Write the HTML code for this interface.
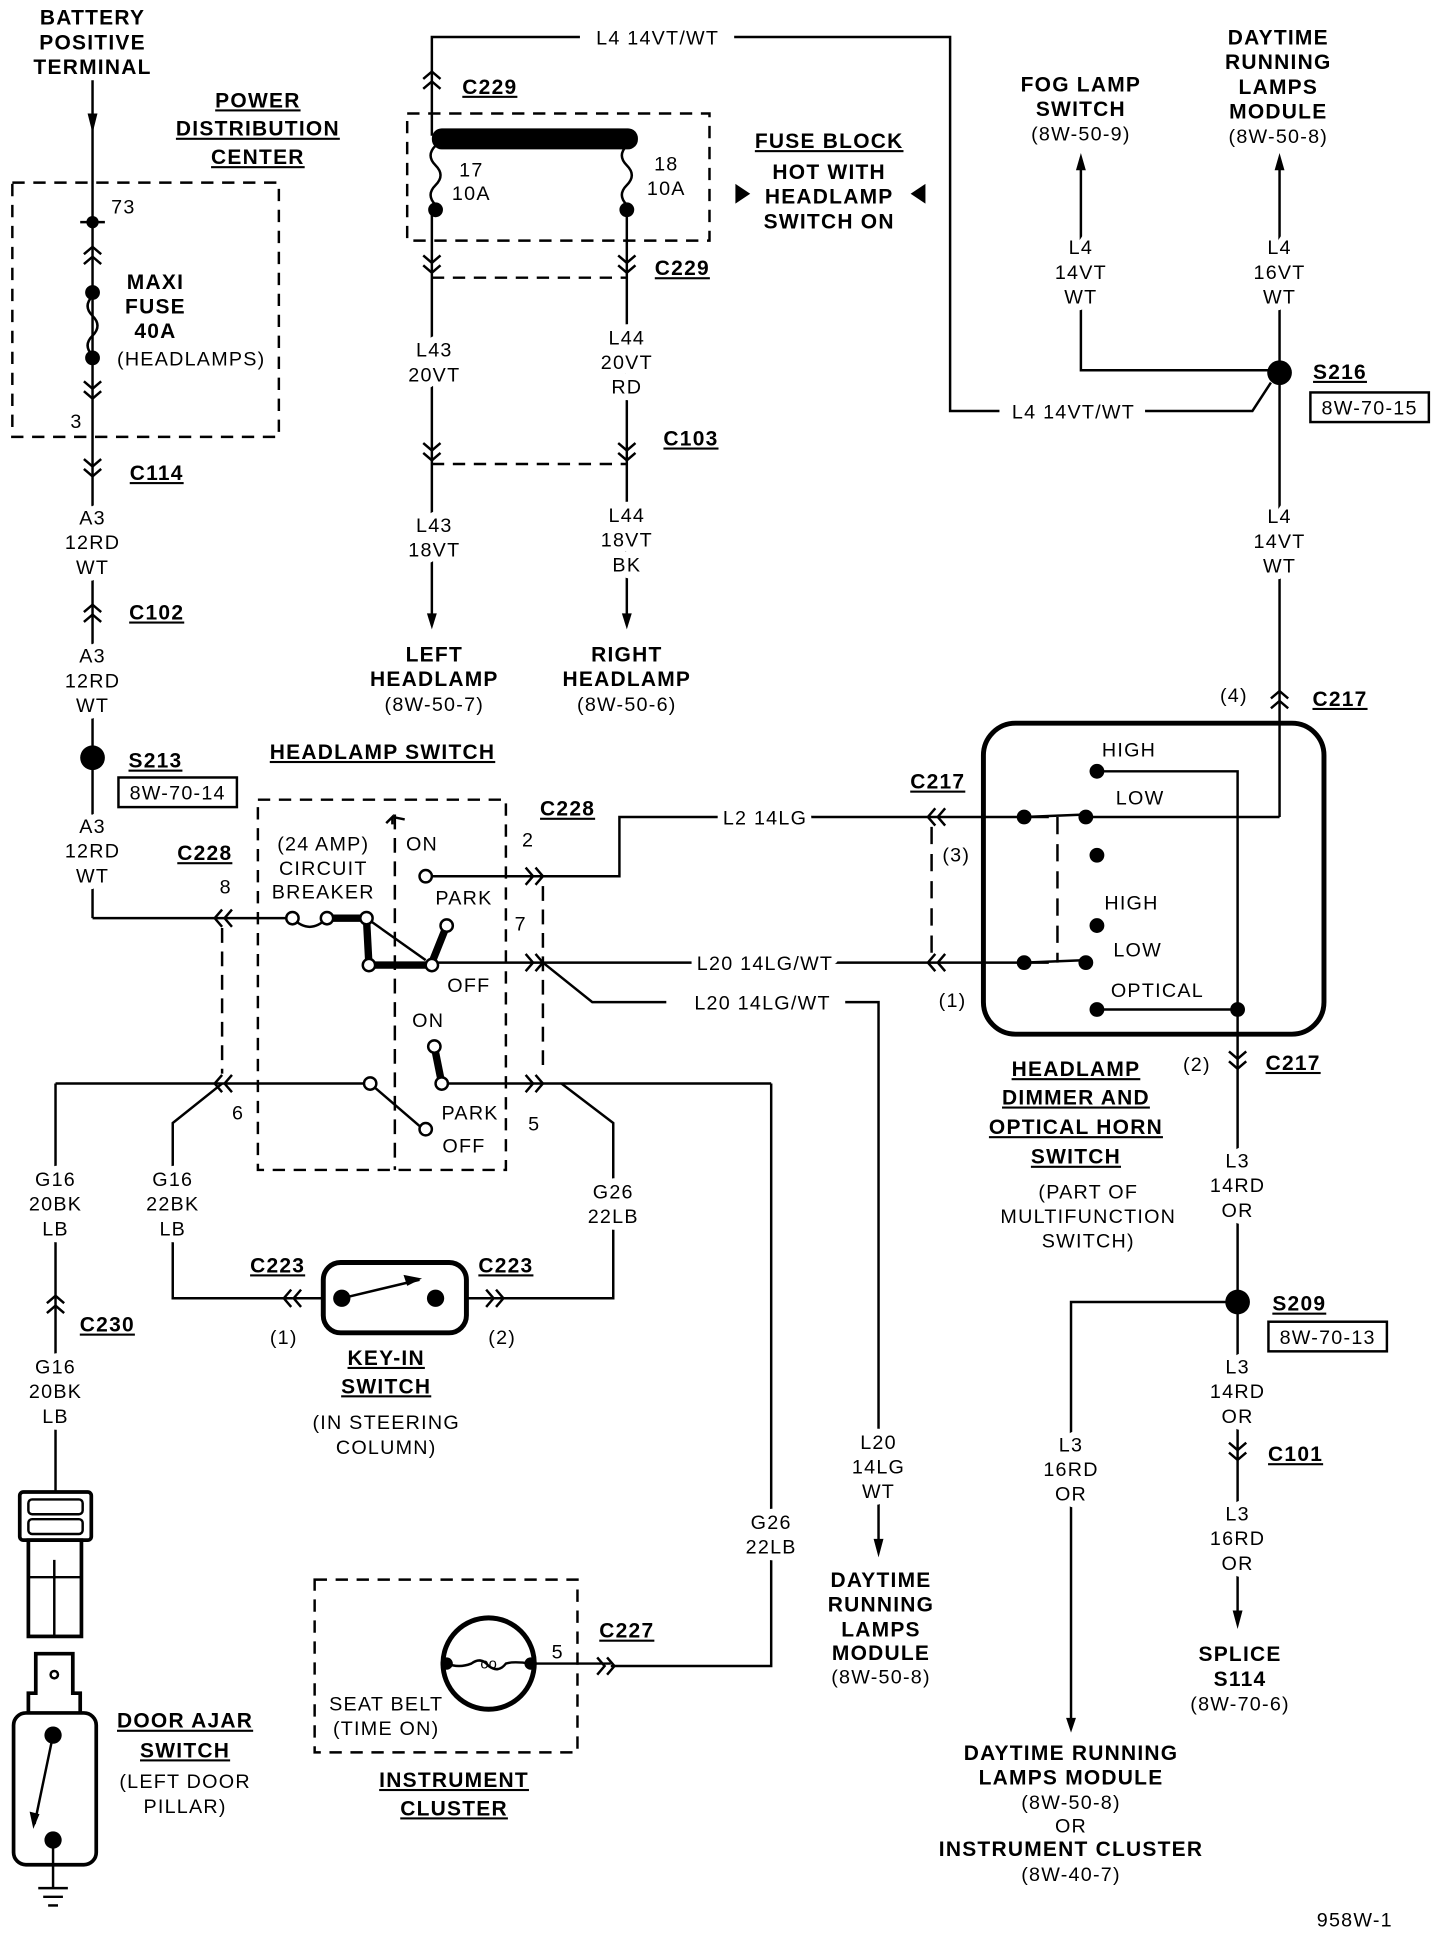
<!DOCTYPE html>
<html><head><meta charset="utf-8"><style>
html,body{margin:0;padding:0;background:#fff;}
svg{display:block;}
text{font-family:"Liberation Sans Narrow","Liberation Sans",sans-serif;fill:#000;text-anchor:middle;}
.h{font-weight:bold;font-size:17px;letter-spacing:1px;}
.u{text-decoration:underline;}
.w{font-size:16px;letter-spacing:1px;}
.w text{paint-order:stroke;stroke:#fff;stroke-width:11px;stroke-linejoin:round;}
.w text.b{stroke:none;}
</style></head><body>
<svg width="1456" height="1940" viewBox="0 0 1180 1572" preserveAspectRatio="none" xmlns="http://www.w3.org/2000/svg">
<defs>
<g id="cd"><polyline points="-7,-6 0,0 7,-6" fill="none" stroke="#000" stroke-width="2"/><polyline points="-7,2 0,8 7,2" fill="none" stroke="#000" stroke-width="2"/></g>
<g id="cu"><polyline points="-7,6 0,0 7,6" fill="none" stroke="#000" stroke-width="2"/><polyline points="-7,14 0,8 7,14" fill="none" stroke="#000" stroke-width="2"/></g>
<g id="cl"><polyline points="6,-7 0,0 6,7" fill="none" stroke="#000" stroke-width="2"/><polyline points="14,-7 8,0 14,7" fill="none" stroke="#000" stroke-width="2"/></g>
<g id="cr"><polyline points="-6,-7 0,0 -6,7" fill="none" stroke="#000" stroke-width="2"/><polyline points="-14,-7 -8,0 -14,7" fill="none" stroke="#000" stroke-width="2"/></g>
</defs>
<g fill="none" stroke="#000" stroke-width="2">
<line x1="75" y1="65" x2="75" y2="744"/><line x1="75" y1="744" x2="237" y2="744"/>
<rect x="10" y="148" width="216" height="206" stroke-dasharray="10,7"/>
<line x1="65" y1="180" x2="85" y2="180"/>
<path d="M75 240 q-8 8 0 16 q8 8 0 16 q-8 8 0 16"/>
<polyline points="350,110 350,30 470,30"/><polyline points="595,30 770,30 770,333 810,333"/>
<polyline points="928,333 1015,333 1030,310"/>
<rect x="330" y="92" width="245" height="103" stroke-dasharray="10,7"/>
<path d="M353 118 q-8 8 0 16 q8 8 0 16 q-8 8 0 16"/><path d="M508 118 q-8 8 0 16 q8 8 0 16 q-8 8 0 16"/>
<line x1="350" y1="170" x2="350" y2="500"/><line x1="508" y1="170" x2="508" y2="500"/>
<line x1="350" y1="225" x2="508" y2="225" stroke-dasharray="10,7"/>
<line x1="350" y1="376" x2="508" y2="376" stroke-dasharray="10,7"/>
<polyline points="876,135 876,300 1037,300"/><line x1="1037" y1="135" x2="1037" y2="662"/>
<polyline points="1037,662 880,662"/>
<rect x="797" y="586" width="276" height="252" rx="26" stroke-width="4"/>
<polyline points="889,625 1003,625 1003,1308"/>
<line x1="889" y1="818" x2="1003" y2="818"/>
<line x1="760" y1="662" x2="850" y2="662"/><line x1="760" y1="780" x2="850" y2="780"/>
<line x1="830" y1="662" x2="880" y2="660"/><line x1="830" y1="780" x2="880" y2="778"/>
<line x1="857" y1="662" x2="857" y2="780" stroke-dasharray="14,8"/>
<line x1="755" y1="670" x2="755" y2="775" stroke-dasharray="14,8"/>
<polyline points="1003,1055 868,1055 868,1395"/>
<rect x="209" y="648" width="201" height="300" stroke-dasharray="10,7"/>
<line x1="320" y1="660" x2="320" y2="948" stroke-dasharray="12,7"/>
<path d="M237 744 q14 14 28 0"/>
<polyline points="345,710 502,710 502,662 760,662"/>
<line x1="350" y1="780" x2="760" y2="780"/>
<polyline points="440,780 480,812 540,812"/><polyline points="685,812 712,812 712,1250"/>
<line x1="180" y1="752" x2="180" y2="870" stroke-dasharray="12,7"/>
<line x1="440" y1="718" x2="440" y2="870" stroke-dasharray="12,7"/>
<line x1="45" y1="878" x2="300" y2="878"/><line x1="300" y1="878" x2="343" y2="915"/>
<line x1="358" y1="878" x2="625" y2="878"/><polyline points="625,878 625,1350 495,1350"/>
<polyline points="180,878 140,910 140,1052 237,1052"/>
<polyline points="455,878 497,910 497,1052 398,1052"/>
<line x1="45" y1="878" x2="45" y2="1209"/>
<rect x="262" y="1023" width="116" height="57" rx="14" stroke-width="4"/>
<line x1="277" y1="1052" x2="340" y2="1037"/>
<line x1="237" y1="1052" x2="262" y2="1052"/><line x1="378" y1="1052" x2="398" y2="1052"/>
<rect x="255" y="1280" width="213" height="140" stroke-dasharray="10,7"/>
<circle cx="396" cy="1348" r="37" stroke-width="4"/>
<line x1="430" y1="1348" x2="495" y2="1348"/>
<path d="M362 1348 q10 4 20 0 q8 -6 14 2 q8 6 14 -2 q6 -2 20 0"/>
<rect x="16" y="1209" width="58" height="39" rx="3" stroke-width="3"/>
<rect x="23" y="1215" width="44" height="12" rx="3"/><rect x="23" y="1231" width="44" height="12" rx="3"/>
<rect x="23" y="1248" width="43" height="78" stroke-width="3"/>
<line x1="44" y1="1264" x2="44" y2="1326"/><line x1="23" y1="1278" x2="66" y2="1278"/>
<path d="M23 1388 L23 1372 L29 1372 L29 1340 L59 1340 L59 1372 L65 1372 L65 1388" stroke-width="3"/>
<circle cx="44" cy="1357" r="3"/>
<rect x="11" y="1388" width="67" height="123" rx="10" stroke-width="3"/>
<line x1="43" y1="1406" x2="28" y2="1478"/>
<line x1="43" y1="1491" x2="43" y2="1530"/>
<line x1="31" y1="1530" x2="55" y2="1530"/><line x1="35" y1="1537" x2="51" y2="1537"/><line x1="39" y1="1544" x2="47" y2="1544"/>
</g>
<g fill="#000">
<circle cx="43" cy="1406" r="7"/><circle cx="43" cy="1491" r="7"/>
<polygon points="24,1468 32,1470 27,1482"/>
<polygon points="71,92 79,92 75,108"/>
<polygon points="346,497 354,497 350,510"/><polygon points="504,497 512,497 508,510"/>
<polygon points="872,138 880,138 876,124"/><polygon points="1033,138 1041,138 1037,124"/>
<polygon points="708,1247 716,1247 712,1262"/><polygon points="864,1392 872,1392 868,1404"/>
<polygon points="999,1305 1007,1305 1003,1320"/>
<polygon points="596,149 608,157 596,165"/><polygon points="750,149 738,157 750,165"/>
<polygon points="327,1033 342,1036 330,1042"/>
<circle cx="75" cy="180" r="5"/><circle cx="75" cy="237" r="6"/><circle cx="75" cy="290" r="6"/>
<circle cx="353" cy="170" r="6"/><circle cx="508" cy="170" r="6"/>
<rect x="350" y="104" width="167" height="17" rx="8"/>
<circle cx="75" cy="614" r="10"/><circle cx="1037" cy="302" r="10"/><circle cx="1003" cy="1055" r="10"/>
<circle cx="889" cy="625" r="6"/><circle cx="830" cy="662" r="6"/><circle cx="880" cy="662" r="6"/>
<circle cx="889" cy="693" r="6"/><circle cx="889" cy="750" r="6"/><circle cx="830" cy="780" r="6"/>
<circle cx="880" cy="780" r="6"/><circle cx="889" cy="818" r="6"/><circle cx="1003" cy="818" r="6"/>
<circle cx="277" cy="1052" r="7"/><circle cx="353" cy="1052" r="7"/>
<circle cx="362" cy="1348" r="5"/><circle cx="430" cy="1348" r="5"/>
</g>
<g stroke="#000" fill="none">
<polyline points="265,744 297,744 299,782 350,782" stroke-width="6"/>
<line x1="297" y1="744" x2="345" y2="778" stroke-width="2"/>
<line x1="350" y1="780" x2="362" y2="750" stroke-width="6"/>
<line x1="352" y1="848" x2="358" y2="878" stroke-width="6"/>
<path d="M313 667 l5 -5 l0 6 M318 662 l10 2" stroke-width="2"/>
</g>
<g fill="#fff" stroke="#000" stroke-width="2">
<circle cx="237" cy="744" r="5"/><circle cx="265" cy="744" r="5"/><circle cx="297" cy="744" r="5"/>
<circle cx="299" cy="782" r="5"/><circle cx="350" cy="782" r="5"/><circle cx="362" cy="750" r="5"/>
<circle cx="345" cy="710" r="5"/>
<circle cx="300" cy="878" r="5"/><circle cx="345" cy="915" r="5"/><circle cx="352" cy="848" r="5"/><circle cx="358" cy="878" r="5"/>
</g>
<use href="#cu" x="75" y="200"/><use href="#cd" x="75" y="315"/><use href="#cd" x="75" y="378"/><use href="#cu" x="75" y="490"/>
<use href="#cu" x="350" y="58"/><use href="#cd" x="350" y="213"/><use href="#cd" x="508" y="213"/>
<use href="#cd" x="350" y="365"/><use href="#cd" x="508" y="365"/>
<use href="#cu" x="1037" y="560"/><use href="#cd" x="1003" y="858"/><use href="#cd" x="1003" y="1175"/>
<use href="#cu" x="45" y="1050"/>
<use href="#cl" x="174" y="744"/><use href="#cl" x="174" y="878"/>
<use href="#cr" x="440" y="710"/><use href="#cr" x="440" y="780"/><use href="#cr" x="440" y="878"/>
<use href="#cl" x="752" y="662"/><use href="#cl" x="752" y="780"/>
<use href="#cl" x="230" y="1052"/><use href="#cr" x="408" y="1052"/><use href="#cr" x="498" y="1350"/>
<g class="h">
<text x="75" y="20">BATTERY</text><text x="75" y="40">POSITIVE</text><text x="75" y="60">TERMINAL</text>
<text x="209" y="87" class="u">POWER</text><text x="209" y="110" class="u">DISTRIBUTION</text><text x="209" y="133" class="u">CENTER</text>
<text x="126" y="234">MAXI</text><text x="126" y="254">FUSE</text><text x="126" y="274">40A</text>
<text x="127" y="389" class="u">C114</text><text x="127" y="502" class="u">C102</text><text x="126" y="622" class="u">S213</text>
<text x="397" y="76" class="u">C229</text><text x="553" y="223" class="u">C229</text><text x="560" y="361" class="u">C103</text>
<text x="672" y="120" class="u">FUSE BLOCK</text><text x="672" y="145">HOT WITH</text><text x="672" y="165">HEADLAMP</text><text x="672" y="185">SWITCH ON</text>
<text x="876" y="74">FOG LAMP</text><text x="876" y="94">SWITCH</text>
<text x="1036" y="36">DAYTIME</text><text x="1036" y="56">RUNNING</text><text x="1036" y="76">LAMPS</text><text x="1036" y="96">MODULE</text>
<text x="1086" y="307" class="u">S216</text>
<text x="352" y="536">LEFT</text><text x="352" y="556">HEADLAMP</text><text x="508" y="536">RIGHT</text><text x="508" y="556">HEADLAMP</text>
<text x="310" y="615" class="u">HEADLAMP SWITCH</text><text x="166" y="697" class="u">C228</text><text x="460" y="661" class="u">C228</text>
<text x="760" y="639" class="u">C217</text><text x="1086" y="572" class="u">C217</text><text x="1048" y="867" class="u">C217</text>
<text x="872" y="872" class="u">HEADLAMP</text><text x="872" y="895" class="u">DIMMER AND</text><text x="872" y="919" class="u">OPTICAL HORN</text><text x="872" y="943" class="u">SWITCH</text>
<text x="1053" y="1062" class="u">S209</text><text x="1050" y="1184" class="u">C101</text>
<text x="1005" y="1346">SPLICE</text><text x="1005" y="1366">S114</text>
<text x="868" y="1426">DAYTIME RUNNING</text><text x="868" y="1446">LAMPS MODULE</text><text x="868" y="1504">INSTRUMENT CLUSTER</text>
<text x="714" y="1286">DAYTIME</text><text x="714" y="1306">RUNNING</text><text x="714" y="1326">LAMPS</text><text x="714" y="1345">MODULE</text>
<text x="225" y="1031" class="u">C223</text><text x="410" y="1031" class="u">C223</text>
<text x="313" y="1106" class="u">KEY-IN</text><text x="313" y="1129" class="u">SWITCH</text>
<text x="87" y="1079" class="u">C230</text><text x="508" y="1327" class="u">C227</text>
<text x="368" y="1448" class="u">INSTRUMENT</text><text x="368" y="1471" class="u">CLUSTER</text>
<text x="150" y="1400" class="u">DOOR AJAR</text><text x="150" y="1424" class="u">SWITCH</text>
</g>
<g class="w">
<text x="100" y="173">73</text><text x="62" y="347">3</text>
<text x="155" y="296" class="b">(HEADLAMPS)</text>
<text x="75" y="425">A3</text><text x="75" y="445">12RD</text><text x="75" y="465">WT</text>
<text x="75" y="537">A3</text><text x="75" y="557">12RD</text><text x="75" y="577">WT</text>
<text x="75" y="675">A3</text><text x="75" y="695">12RD</text><text x="75" y="715">WT</text>
<text x="144" y="648" class="b">8W-70-14</text>
<text x="533" y="36">L4 14VT/WT</text><text x="870" y="339">L4 14VT/WT</text>
<text x="1110" y="336" class="b">8W-70-15</text>
<text x="382" y="143">17</text><text x="382" y="162">10A</text><text x="540" y="138">18</text><text x="540" y="158">10A</text>
<text x="352" y="289">L43</text><text x="352" y="309">20VT</text>
<text x="508" y="279">L44</text><text x="508" y="299">20VT</text><text x="508" y="319">RD</text>
<text x="352" y="431">L43</text><text x="352" y="451">18VT</text>
<text x="508" y="423">L44</text><text x="508" y="443">18VT</text><text x="508" y="463">BK</text>
<text x="352" y="576">(8W-50-7)</text><text x="508" y="576">(8W-50-6)</text>
<text x="876" y="114">(8W-50-9)</text><text x="1036" y="116">(8W-50-8)</text>
<text x="876" y="206">L4</text><text x="876" y="226">14VT</text><text x="876" y="246">WT</text>
<text x="1037" y="206">L4</text><text x="1037" y="226">16VT</text><text x="1037" y="246">WT</text>
<text x="1037" y="424">L4</text><text x="1037" y="444">14VT</text><text x="1037" y="464">WT</text>
<text x="1000" y="569">(4)</text>
<text x="915" y="613">HIGH</text><text x="924" y="652">LOW</text><text x="917" y="737">HIGH</text><text x="922" y="775">LOW</text><text x="938" y="808">OPTICAL</text>
<text x="775" y="698">(3)</text><text x="772" y="816">(1)</text><text x="970" y="868">(2)</text>
<text x="882" y="971">(PART OF</text><text x="882" y="991">MULTIFUNCTION</text><text x="882" y="1011">SWITCH)</text>
<text x="1003" y="946">L3</text><text x="1003" y="966">14RD</text><text x="1003" y="986">OR</text>
<text x="1076" y="1089" class="b">8W-70-13</text>
<text x="1003" y="1113">L3</text><text x="1003" y="1133">14RD</text><text x="1003" y="1153">OR</text>
<text x="1003" y="1232">L3</text><text x="1003" y="1252">16RD</text><text x="1003" y="1272">OR</text>
<text x="1005" y="1386">(8W-70-6)</text>
<text x="868" y="1176">L3</text><text x="868" y="1196">16RD</text><text x="868" y="1216">OR</text>
<text x="868" y="1466">(8W-50-8)</text><text x="868" y="1485">OR</text><text x="868" y="1524">(8W-40-7)</text>
<text x="1098" y="1561">958W-1</text>
<text x="262" y="689" class="b">(24 AMP)</text><text x="262" y="709" class="b">CIRCUIT</text><text x="262" y="728" class="b">BREAKER</text>
<text x="342" y="689">ON</text><text x="376" y="733">PARK</text><text x="380" y="804">OFF</text><text x="347" y="832">ON</text><text x="381" y="907">PARK</text><text x="376" y="934">OFF</text>
<text x="183" y="724">8</text><text x="428" y="686">2</text><text x="422" y="754">7</text><text x="193" y="907">6</text><text x="433" y="916">5</text>
<text x="620" y="668">L2 14LG</text><text x="620" y="786">L20 14LG/WT</text><text x="618" y="818">L20 14LG/WT</text>
<text x="712" y="1174">L20</text><text x="712" y="1194">14LG</text><text x="712" y="1214">WT</text>
<text x="714" y="1364">(8W-50-8)</text>
<text x="45" y="961">G16</text><text x="45" y="981">20BK</text><text x="45" y="1001">LB</text>
<text x="140" y="961">G16</text><text x="140" y="981">22BK</text><text x="140" y="1001">LB</text>
<text x="497" y="971">G26</text><text x="497" y="991">22LB</text>
<text x="45" y="1113">G16</text><text x="45" y="1133">20BK</text><text x="45" y="1153">LB</text>
<text x="625" y="1239">G26</text><text x="625" y="1259">22LB</text>
<text x="230" y="1089">(1)</text><text x="407" y="1089">(2)</text>
<text x="313" y="1158">(IN STEERING</text><text x="313" y="1178">COLUMN)</text>
<text x="452" y="1344" class="b">5</text>
<text x="313" y="1386" class="b">SEAT BELT</text><text x="313" y="1406" class="b">(TIME ON)</text>
<text x="150" y="1449">(LEFT DOOR</text><text x="150" y="1469">PILLAR)</text>
</g>
<g fill="none" stroke="#000" stroke-width="2">
<rect x="1062" y="318" width="96" height="24"/>
<rect x="1028" y="1071" width="96" height="24"/>
<rect x="96" y="630" width="96" height="24"/>
</g>
<text x="396" y="1352" style="font-size:12px">oo</text>
</svg>
</body></html>
